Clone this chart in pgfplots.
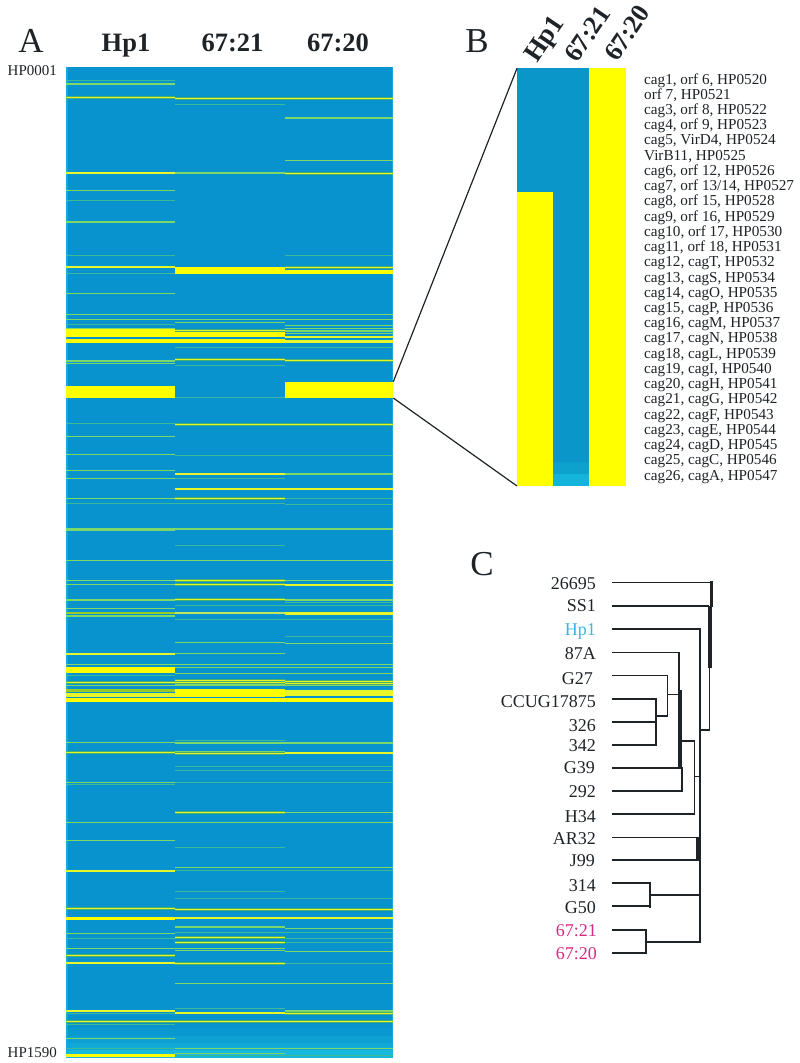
\documentclass[border=0pt]{standalone}
\usepackage{fontspec}
\setmainfont{Liberation Serif}
\usepackage{pgfplots}
\pgfplotsset{compat=1.18}
\definecolor{hblue}{RGB}{8,146,206}
\definecolor{hedge}{RGB}{24,166,220}
\definecolor{hlow1}{RGB}{10,152,208}
\definecolor{hlow2}{RGB}{13,160,211}
\definecolor{hlow3}{RGB}{17,170,214}
\definecolor{hlow4}{RGB}{24,184,220}
\definecolor{bblue}{RGB}{10,150,200}
\definecolor{bblue1}{RGB}{13,162,206}
\definecolor{bblue2}{RGB}{20,180,218}
\definecolor{hyel}{RGB}{255,255,0}
\definecolor{sbright}{RGB}{232,245,40}
\definecolor{shalo}{RGB}{70,175,110}
\definecolor{smed}{RGB}{125,215,105}
\definecolor{sdim}{RGB}{60,185,150}
\definecolor{solive}{RGB}{150,205,40}
\definecolor{spale}{RGB}{195,228,95}
\definecolor{txt}{RGB}{30,35,40}
\definecolor{cyanlab}{RGB}{60,180,220}
\definecolor{maglab}{RGB}{215,40,130}
\pgfplotsset{
  colA/.style={forget plot,draw=none,mark=none,error bars/x dir=both,error bars/x fixed=54.5,error bars/error mark=none},
  colB/.style={forget plot,draw=none,mark=none,error bars/x dir=both,error bars/x fixed=54.75,error bars/error mark=none},
  colC/.style={forget plot,draw=none,mark=none,error bars/x dir=both,error bars/x fixed=54.25,error bars/error mark=none},
  dim/.style={error bars/error bar style={line width=0.9pt,draw=sdim}},
  med/.style={error bars/error bar style={line width=1.2pt,draw=smed}},
  halo/.style={error bars/error bar style={line width=2.6pt,draw=shalo}},
  bright/.style={error bars/error bar style={line width=1.5pt,draw=sbright}},
  tree/.style={forget plot,draw=txt,line width=#1,line cap=rect},
}
% x0 x1 y0 y1 colour
\newcommand{\band}[5]{\addplot[forget plot,draw=none,fill=#5] coordinates {(#1,#3)(#2,#3)(#2,#4)(#1,#4)};}
\newcommand{\brights}[2]{\addplot[#1,halo] coordinates {#2};\addplot[#1,bright] coordinates {#2};}
\newcommand{\lab}[2]{\node[anchor=base west,inner sep=0pt,font=\fontsize{15.2}{15.2}\selectfont,text=txt] at (axis cs:644,#1) {#2};}
\newcommand{\strain}[4][txt]{\node[anchor=base east,inner sep=0pt,font=\fontsize{18}{18}\selectfont,text=#1] at (axis cs:#2,#3) {#4};}
\begin{document}
\begin{tikzpicture}
\path[use as bounding box] (0,0) rectangle (800pt,1063pt);
\begin{axis}[
  anchor=south west,at={(0,0)},
  scale only axis,width=800pt,height=1063pt,
  xmin=0,xmax=800,ymin=0,ymax=1063,y dir=reverse,
  hide axis,clip=false,
]
% panel A background
\band{66}{393}{67}{1058}{hblue}
\band{66}{67.5}{67}{1058}{hedge}
\band{392}{393}{67}{1058}{hedge}
\band{67.5}{392}{1028}{1036}{hlow1}
\band{67.5}{392}{1036}{1043}{hlow2}
\band{67.5}{392}{1043}{1050}{hlow3}
\band{66}{393}{1050}{1058}{hlow4}

% Hp1
\addplot[colA,dim] coordinates {(120.5,80)(120.5,200)(120.5,255.3)(120.5,273.7)(120.5,324)(120.5,423.7)(120.5,503.7)(120.5,675.3)(120.5,784.7)(120.5,938.3)(120.5,1013.3)(120.5,1024)(120.5,1048.7)};
\addplot[colA,med] coordinates {(120.5,84)(120.5,190.7)(120.5,222)(120.5,293.3)(120.5,314.3)(120.5,319.7)(120.5,328.3)(120.5,361)(120.5,363.3)(120.5,436.3)(120.5,454.3)(120.5,470.7)(120.5,478.3)(120.5,498.3)(120.5,529)(120.5,530.7)(120.5,560.7)(120.5,580.7)(120.5,584.7)(120.5,600)(120.5,608.7)(120.5,616)(120.5,664.7)(120.5,685.7)(120.5,742.7)(120.5,782.7)(120.5,822.3)(120.5,840.3)(120.5,933.3)(120.5,948.3)(120.5,1038.7)};
\brights{colA}{(120.5,97.7)(120.5,173)(120.5,267)(120.5,654)(120.5,682.3)(120.5,752.7)(120.5,871)(120.5,908.3)(120.5,955.3)(120.5,963)(120.5,1011)(120.5,1021.3)}
\band{66}{175}{329}{337.3}{hyel}
\band{66}{175}{339}{343}{hyel}
\band{66}{175}{386}{397.7}{hyel}
\band{66}{175}{611.7}{614}{solive}
\band{66}{175}{666.7}{673.3}{hyel}
\band{66}{175}{689}{691.7}{solive}
\band{66}{175}{693.3}{696.7}{sbright}
\band{66}{175}{698.3}{701.7}{hyel}
\band{66}{175}{917}{920.3}{hyel}
\band{66}{175}{1053.7}{1057}{hyel}

% 67:21
\addplot[colB,dim] coordinates {(229.75,104.3)(229.75,347.7)(229.75,365.3)(229.75,397.3)(229.75,455.3)(229.75,478.3)(229.75,503.7)(229.75,545)(229.75,605.7)(229.75,619.3)(229.75,740)(229.75,766.7)(229.75,770)(229.75,782.7)(229.75,847.3)(229.75,870.3)(229.75,891.7)(229.75,898)(229.75,932.3)(229.75,1008.3)(229.75,1055.7)};
\addplot[colB,med] coordinates {(229.75,173)(229.75,314.3)(229.75,319.7)(229.75,322.7)(229.75,529)(229.75,560.7)(229.75,642.7)(229.75,653.3)(229.75,664.7)(229.75,667.3)(229.75,673.3)(229.75,685)(229.75,743)(229.75,751.3)(229.75,822.3)(229.75,867.3)(229.75,927)(229.75,948.3)(229.75,950.7)(229.75,983.3)(229.75,1048.7)(229.75,1053.7)};
\brights{colB}{(229.75,98.3)(229.75,330.7)(229.75,359.7)(229.75,424.3)(229.75,474)(229.75,489)(229.75,498.3)(229.75,580.7)(229.75,584.7)(229.75,599.7)(229.75,680.7)(229.75,682.7)(229.75,753.3)(229.75,812.3)(229.75,909.7)(229.75,918)(229.75,937.3)(229.75,942.7)(229.75,963.3)(229.75,1013)(229.75,1021.3)}
\band{175}{284.5}{267.3}{274}{hyel}
\band{175}{284.5}{332}{337}{hyel}
\band{175}{284.5}{339}{343}{hyel}
\band{175}{284.5}{611.7}{614}{spale}
\band{175}{284.5}{689.3}{696.7}{hyel}
\band{175}{284.5}{698.3}{701.7}{hyel}

% 67:20
\addplot[colC,dim] coordinates {(338.75,255.3)(338.75,347.7)(338.75,455.3)(338.75,498.3)(338.75,504.3)(338.75,602)(338.75,605.7)(338.75,619.3)(338.75,636.7)(338.75,766.7)(338.75,770)(338.75,782.7)(338.75,870.3)(338.75,898)(338.75,932.3)(338.75,938.3)(338.75,942.7)(338.75,963.3)(338.75,1055.7)};
\addplot[colC,med] coordinates {(338.75,118)(338.75,160.7)(338.75,314.3)(338.75,319.7)(338.75,325.7)(338.75,328.3)(338.75,331)(338.75,333.3)(338.75,474)(338.75,529)(338.75,560.7)(338.75,580.7)(338.75,600)(338.75,643.3)(338.75,664.7)(338.75,667.3)(338.75,673.3)(338.75,685.7)(338.75,743)(338.75,812.3)(338.75,822.3)(338.75,867.3)(338.75,928.7)(338.75,951.3)(338.75,983.3)(338.75,1011)(338.75,1048.7)};
\brights{colC}{(338.75,98.3)(338.75,173.3)(338.75,267.3)(338.75,337)(338.75,360.3)(338.75,424.3)(338.75,489)(338.75,585)(338.75,681.7)(338.75,683.3)(338.75,691)(338.75,693)(338.75,695)(338.75,753)(338.75,909.7)(338.75,918)(338.75,1013.3)(338.75,1021.3)}
\band{284.5}{393}{270}{274}{hyel}
\band{284.5}{393}{340}{343}{sbright}
\band{284.5}{393}{381.7}{397.7}{hyel}
\band{284.5}{393}{611.7}{614.7}{sbright}
\band{284.5}{393}{698.3}{701.7}{hyel}

% panel B
\band{517}{626}{68.3}{486}{bblue}
\band{553.3}{589.3}{462}{474}{bblue1}
\band{553.3}{589.3}{474}{486}{bblue2}
\band{517}{553.3}{191.7}{486}{hyel}
\band{589.3}{626}{68.3}{486}{hyel}
% zoom lines
\addplot[forget plot,draw=txt,line width=1.2pt] coordinates {(393.3,381.7)(517,68.3)};
\addplot[forget plot,draw=txt,line width=1.2pt] coordinates {(393.3,398)(517,486)};

% panel C tree
\addplot[tree=1.6pt] coordinates {(612.7,582.3)(711.5,582.3)};
\addplot[tree=1.6pt] coordinates {(612.7,605.7)(708.3,605.7)};
\addplot[tree=1.6pt] coordinates {(612.7,628.7)(700,628.7)(700,941.7)(646,941.7)};
\addplot[tree=1.6pt] coordinates {(612.7,652.3)(679,652.3)(679,690)};
\addplot[tree=1.6pt] coordinates {(612.7,675.3)(667.3,675.3)(667.3,715.7)(655.7,715.7)};
\addplot[tree=1.6pt] coordinates {(612.7,698.7)(655.7,698.7)(655.7,745)(612.7,745)};
\addplot[tree=1.6pt] coordinates {(612.7,721.7)(655.7,721.7)};
\addplot[tree=1.6pt] coordinates {(667.3,694.3)(680,694.3)};
\addplot[tree=1.6pt] coordinates {(612.7,767.7)(681,767.7)};
\addplot[tree=1.6pt] coordinates {(612.7,791)(681.7,791)(681.7,767.7)};
\addplot[tree=1.6pt] coordinates {(680,741)(694.3,741)(694.3,814)(612.7,814)};
\addplot[tree=1.4pt] coordinates {(694.3,776.7)(700,776.7)};
\addplot[tree=1.6pt] coordinates {(612.7,837.3)(697.7,837.3)};
\addplot[tree=1.6pt] coordinates {(612.7,860)(697.7,860)};
\addplot[tree=1.6pt] coordinates {(650,895)(700,895)};
\addplot[tree=1.6pt] coordinates {(709.5,667.7)(709.5,729.7)(700,729.7)};
\addplot[tree=1.7pt] coordinates {(612.7,883.3)(650,883.3)};
\addplot[tree=1.7pt] coordinates {(612.7,906.3)(650,906.3)};
\addplot[tree=2pt] coordinates {(612.7,930)(646,930)};
\addplot[tree=1.7pt] coordinates {(612.7,953)(646,953)};
\addplot[tree=2.4pt] coordinates {(650,883.3)(650,906.3)};
\addplot[tree=2.4pt] coordinates {(646,930)(646,953)};
\addplot[tree=2.2pt] coordinates {(711.5,582.3)(711.5,605.7)};
\addplot[forget plot,draw=txt,line width=4pt] coordinates {(710.3,605.7)(710.3,667.7)};
\addplot[forget plot,draw=txt,line width=4pt] coordinates {(680.3,690)(680.3,768)};
\addplot[forget plot,draw=txt,line width=4pt] coordinates {(697.7,837.3)(697.7,860)};

% headings
\node[inner sep=0pt,font=\fontsize{35}{35}\selectfont,text=txt,anchor=base] at (axis cs:31,52) {A};
\node[inner sep=0pt,font=\fontsize{35}{35}\selectfont,text=txt,anchor=base] at (axis cs:477,52) {B};
\node[inner sep=0pt,font=\fontsize{35}{35}\selectfont,text=txt,anchor=base] at (axis cs:482,575) {C};
\node[inner sep=0pt,font=\fontsize{26.5}{26.5}\bfseries,text=txt,anchor=base] at (axis cs:126,51) {Hp1};
\node[inner sep=0pt,font=\fontsize{26.5}{26.5}\bfseries,text=txt,anchor=base] at (axis cs:232.5,51) {67:21};
\node[inner sep=0pt,font=\fontsize{26.5}{26.5}\bfseries,text=txt,anchor=base] at (axis cs:338,51) {67:20};
\node[inner sep=0pt,font=\fontsize{27}{27}\bfseries,text=txt,rotate=56] at (axis cs:546,40) {Hp1};
\node[inner sep=0pt,font=\fontsize{26}{26}\bfseries,text=txt,rotate=56] at (axis cs:587.5,34) {67:21};
\node[inner sep=0pt,font=\fontsize{26}{26}\bfseries,text=txt,rotate=56] at (axis cs:627,33) {67:20};
\node[inner sep=0pt,font=\fontsize{15}{15}\selectfont,text=txt,anchor=base west] at (axis cs:7.5,75) {HP0001};
\node[inner sep=0pt,font=\fontsize{15}{15}\selectfont,text=txt,anchor=base west] at (axis cs:7.5,1057) {HP1590};

% gene labels
\lab{84}{cag1, orf 6, HP0520}
\lab{99.2}{orf 7, HP0521}
\lab{114.5}{cag3, orf 8, HP0522}
\lab{129.7}{cag4, orf 9, HP0523}
\lab{144.9}{cag5, VirD4, HP0524}
\lab{160.2}{VirB11, HP0525}
\lab{175.4}{cag6, orf 12, HP0526}
\lab{190.6}{cag7, orf 13/14, HP0527}
\lab{205.8}{cag8, orf 15, HP0528}
\lab{221.1}{cag9, orf 16, HP0529}
\lab{236.3}{cag10, orf 17, HP0530}
\lab{251.5}{cag11, orf 18, HP0531}
\lab{266.8}{cag12, cagT, HP0532}
\lab{282}{cag13, cagS, HP0534}
\lab{297.2}{cag14, cagO, HP0535}
\lab{312.5}{cag15, cagP, HP0536}
\lab{327.7}{cag16, cagM, HP0537}
\lab{342.9}{cag17, cagN, HP0538}
\lab{358.2}{cag18, cagL, HP0539}
\lab{373.4}{cag19, cagI, HP0540}
\lab{388.6}{cag20, cagH, HP0541}
\lab{403.8}{cag21, cagG, HP0542}
\lab{419.1}{cag22, cagF, HP0543}
\lab{434.3}{cag23, cagE, HP0544}
\lab{449.5}{cag24, cagD, HP0545}
\lab{464.8}{cag25, cagC, HP0546}
\lab{480}{cag26, cagA, HP0547}

% strain labels
\strain{596}{589}{26695}
\strain{596}{611}{SS1}
\strain[cyanlab]{596}{635}{Hp1}
\strain{596}{659}{87A}
\strain{593}{684}{G27}
\strain{596}{707}{CCUG17875}
\strain{596}{731}{326}
\strain{596}{751}{342}
\strain{595}{773}{G39}
\strain{596}{797}{292}
\strain{596}{822}{H34}
\strain{596}{844}{AR32}
\strain{595}{866}{J99}
\strain{596}{891}{314}
\strain{596}{913}{G50}
\strain[maglab]{597}{936}{67:21}
\strain[maglab]{597}{959}{67:20}
\end{axis}
\end{tikzpicture}
\end{document}
